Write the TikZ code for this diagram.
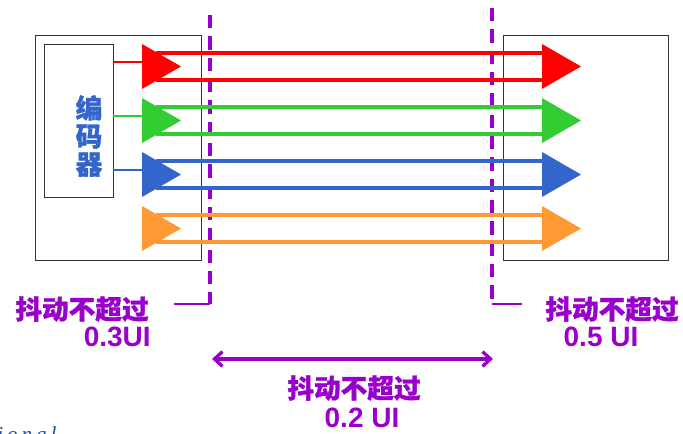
\documentclass[tikz,border=0pt]{standalone}
\usepackage{fontspec}
\setmainfont{Liberation Sans}
\newfontfamily\cjk{Noto Sans CJK SC}[BoldFeatures={FakeBold=1.2}]
\newfontfamily\serifit{Liberation Serif}[LetterSpace=18]
\usetikzlibrary{arrows.meta}
\definecolor{cred}{HTML}{FF0000}
\definecolor{cgreen}{HTML}{33CC33}
\definecolor{cblue}{HTML}{3366CC}
\definecolor{corange}{HTML}{FF9933}
\definecolor{cpurple}{HTML}{9900CC}
\definecolor{cnavy}{HTML}{1F4E9A}
\begin{document}
\begin{tikzpicture}[x=0.75pt,y=-0.75pt,
  box/.style={draw=black!80,line width=0.9pt,fill=white,inner sep=0pt,anchor=north west},
  sig/.style={line width=2.3pt},
  tap/.style={line width=0.8pt},
  jit/.style={draw=cpurple,line width=2.8pt,dash pattern=on 10pt off 6pt},
  tick/.style={draw=cpurple,line width=1.8pt},
  span/.style={draw=cpurple,line width=2.5pt,{Straight Barb[length=6pt,width=11pt]}-{Straight Barb[length=6pt,width=11pt]}},
  lbl/.style={text=cpurple,font=\fontsize{21}{22}\selectfont\bfseries,inner sep=0pt},
  cjklbl/.style={text=cpurple,font=\cjk\fontsize{20}{22}\selectfont\bfseries,inner sep=0pt}]
\useasboundingbox (0,0) rectangle (683,434);

% boxes
\node[box,minimum width=124.5pt,minimum height=168.75pt] (tx) at (35,35) {};
\node[box,minimum width=123.75pt,minimum height=168.75pt] (rx) at (503,35) {};
\node[box,minimum width=51.75pt,minimum height=114.75pt] (enc) at (44,44) {};
\node[text=cblue,font=\cjk\fontsize{20}{21}\selectfont\bfseries,align=center,inner sep=0pt] (enctxt) at (89,136) {编\\码\\器};

% jitter marker lines (behind the signal lines)
\coordinate (jlt) at (210,15);
\coordinate (jlb) at (210,304);
\coordinate (jle) at (174,304);
\coordinate (jrt) at (492,8);
\coordinate (jrb) at (492,304);
\coordinate (jre) at (522,304);
\draw[jit] (jlt) -- (jlb);
\draw[jit] (jrt) -- (jrb);
\draw[tick] (jlb) -- (jle);
\draw[tick] (jrb) -- (jre);

% channels
\foreach \c/\y/\n in {cred/66.5/r,cgreen/120.5/g,cblue/174.5/b,corange/228.5/o}{
  \coordinate (\n a1) at (156,\y-13.5);
  \coordinate (\n b1) at (542,\y-13.5);
  \coordinate (\n a2) at (156,\y+13.5);
  \coordinate (\n b2) at (542,\y+13.5);
  \draw[sig,\c] (\n a1) -- (\n b1);
  \draw[sig,\c] (\n a2) -- (\n b2);
  \fill[\c] (142,\y-22.5) -- (142,\y+22.5) -- (181,\y) -- cycle;
  \fill[\c] (542,\y-22.5) -- (542,\y+22.5) -- (581,\y) -- cycle;
}
% taps from encoder
\foreach \c/\y/\n in {cred/62/r,cgreen/116/g,cblue/170/b}{
  \coordinate (\n t0) at (113,\y);
  \coordinate (\n t1) at (142,\y);
  \draw[tap,\c] (\n t0) -- (\n t1);
}

% span arrow
\coordinate (sa) at (212,359);
\coordinate (sb) at (493,359);
\draw[span] (sa) -- (sb);

% labels
\node[cjklbl] (l1) at (82,309) {抖动不超过};
\node[lbl,anchor=east] (l2) at (151,337) {0.3UI};
\node[cjklbl] (r1) at (612,309) {抖动不超过};
\node[lbl] (r2) at (601,337) {0.5 UI};
\node[cjklbl] (m1) at (354,388) {抖动不超过};
\node[lbl] (m2) at (362,418) {0.2 UI};

% clipped footer text
\begin{scope}
\clip (0,0) rectangle (683,434);
\node[text=cnavy,font=\serifit\itshape\fontsize{16}{18}\selectfont,anchor=base west,inner sep=0pt] (foot) at (-3,442) {ional};
\end{scope}
\end{tikzpicture}
\end{document}
